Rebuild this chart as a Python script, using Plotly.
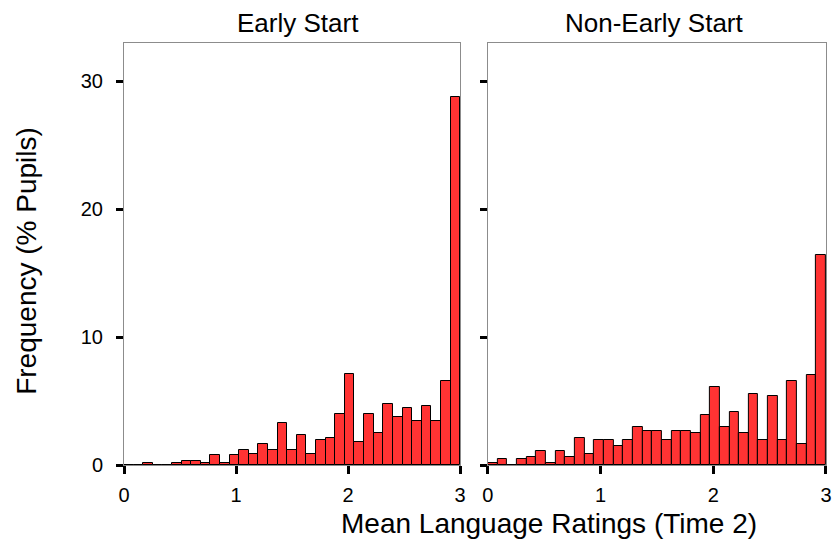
import plotly.graph_objects as go
from plotly.subplots import make_subplots

n_bins = 35
bin_width = 3 / n_bins
bin_centers = [bin_width * (k + 0.5) for k in range(n_bins)]

early_start = [0, 0, 0.16, 0, 0, 0.16, 0.31, 0.31, 0.16, 0.75,
               0.16, 0.75, 1.17, 0.89, 1.64, 1.17, 3.28, 1.17, 2.37, 0.89,
               1.93, 2.08, 4.01, 7.14, 1.77, 4.01, 2.53, 4.77, 3.72, 4.45,
               3.41, 4.61, 3.41, 6.54, 28.8]

non_early_start = [0.16, 0.47, 0, 0.47, 0.6, 1.07, 0.16, 1.07, 0.6, 2.08,
                   0.89, 1.93, 1.93, 1.48, 1.93, 2.97, 2.68, 2.68, 1.93, 2.68,
                   2.68, 2.53, 3.88, 6.12, 2.97, 4.17, 2.53, 5.57, 1.93, 5.42,
                   1.93, 6.54, 1.64, 7.0, 16.4]

panel_titles = ["Early Start", "Non-Early Start"]
x_title = "Mean Language Ratings (Time 2)"
y_title = "Frequency (% Pupils)"
x_tickvals = [0, 1, 2, 3]
y_tickvals = [0, 10, 20, 30]

FONT = "Liberation Sans, Arial, sans-serif"
BAR = "#ff3333"
FRAME = "#8c8c8c"

W, H = 839, 542
L, R, T, B = 124, 832, 43, 465   # plot area in page pixels

fig = make_subplots(rows=1, cols=2, horizontal_spacing=0.04)

for i, series in enumerate([early_start, non_early_start]):
    fig.add_trace(go.Bar(
        x=bin_centers, y=series, width=bin_width,
        marker=dict(color=BAR, line=dict(color="black", width=1)),
        showlegend=False, hoverinfo="x+y"), row=1, col=i + 1)

pw = R - L
fig.update_layout(
    width=W, height=H,
    margin=dict(l=L, r=W - R, t=T, b=H - B, pad=0),
    paper_bgcolor="white", plot_bgcolor="white",
    bargap=0, font=dict(family=FONT, color="black"),
    xaxis=dict(domain=[0, (463 - L) / pw]),
    xaxis2=dict(domain=[(491 - L) / pw, 1]),
)

for ax in ["xaxis", "xaxis2"]:
    fig.layout[ax].update(
        range=[0, 3], tickvals=x_tickvals, ticks="outside", ticklen=8, tickwidth=3,
        tickcolor="black", showline=True, linecolor=FRAME, linewidth=1, mirror=True,
        showgrid=False, zeroline=False, ticklabelstandoff=4,
        tickfont=dict(size=20, family=FONT, color="black"))
for j, ax in enumerate(["yaxis", "yaxis2"]):
    fig.layout[ax].update(
        range=[0, 33], tickvals=y_tickvals, ticks="outside", ticklen=7, tickwidth=3,
        tickcolor="black", showline=True, linecolor=FRAME, linewidth=1, mirror=True,
        showgrid=False, zeroline=False, showticklabels=(j == 0), ticklabelstandoff=9,
        tickfont=dict(size=20, family=FONT, color="black"))


def px(x):
    return (x - L) / pw


def py(y):
    return (B - y) / (B - T)


ann = []
for t, (cx, cy) in zip(panel_titles, [(299, 23), (659, 23)]):
    ann.append(dict(text=t, x=px(cx), y=py(cy), xref="paper", yref="paper",
                    showarrow=False, xanchor="center", yanchor="middle",
                    font=dict(size=26, family=FONT)))
ann.append(dict(text=x_title, x=px(553), y=py(523), xref="paper", yref="paper",
                showarrow=False, xanchor="center", yanchor="middle",
                font=dict(size=28, family=FONT)))
ann.append(dict(text=y_title, x=px(25), y=py(261), xref="paper", yref="paper",
                showarrow=False, xanchor="center", yanchor="middle", textangle=-90,
                font=dict(size=28, family=FONT)))
fig.update_layout(annotations=ann)

fig.write_html("out.html", config={"displayModeBar": False},
               post_script="document.body.style.margin='0';document.body.style.overflow='hidden';")
